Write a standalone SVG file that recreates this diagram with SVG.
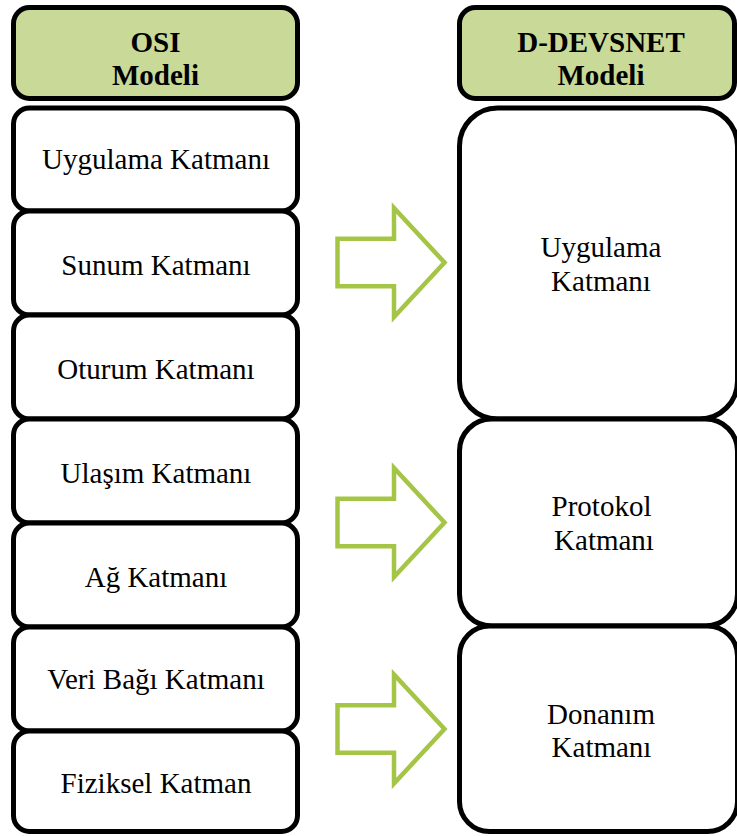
<svg xmlns="http://www.w3.org/2000/svg" width="737" height="836" viewBox="0 0 737 836">
  <style>
    .box { fill: #ffffff; stroke: #000000; stroke-width: 5; }
    .head { fill: #c8d998; stroke: #000000; stroke-width: 5; }
    .lbl { font-family: "Liberation Serif", "Times New Roman", serif; font-size: 29px; fill: #000000; text-anchor: middle; }
    .ttl { font-family: "Liberation Serif", "Times New Roman", serif; font-size: 29px; font-weight: bold; fill: #000000; text-anchor: middle; }
    .arrow { fill: #ffffff; stroke: #a5c547; stroke-width: 4.5; stroke-linejoin: miter; stroke-miterlimit: 10; }
  </style>
  <defs>
    <path id="block-arrow" d="M337.5,238.7 H394 V208 L444.5,262.5 L394,317 V286.3 H337.5 Z"/>
  </defs>
  <rect width="737" height="836" fill="#ffffff"/>

  <!-- OSI column -->
  <g id="osi-header">
    <rect class="head" x="13.5" y="7.5" width="284" height="91" rx="16"/>
    <text class="ttl" x="155.5" y="52">OSI</text>
    <text class="ttl" x="155.5" y="85">Modeli</text>
  </g>
  <g id="osi-application">
    <rect class="box" x="13.5" y="108" width="284" height="103" rx="16"/>
    <text class="lbl" x="156" y="169">Uygulama Katmanı</text>
  </g>
  <g id="osi-presentation">
    <rect class="box" x="13.5" y="211" width="284" height="104" rx="16"/>
    <text class="lbl" x="156" y="275">Sunum Katmanı</text>
  </g>
  <g id="osi-session">
    <rect class="box" x="13.5" y="315" width="284" height="104" rx="16"/>
    <text class="lbl" x="156" y="379">Oturum Katmanı</text>
  </g>
  <g id="osi-transport">
    <rect class="box" x="13.5" y="419" width="284" height="104" rx="16"/>
    <text class="lbl" x="156" y="483">Ulaşım Katmanı</text>
  </g>
  <g id="osi-network">
    <rect class="box" x="13.5" y="523" width="284" height="104" rx="16"/>
    <text class="lbl" x="156" y="587">Ağ Katmanı</text>
  </g>
  <g id="osi-datalink">
    <rect class="box" x="13.5" y="627" width="284" height="104" rx="16"/>
    <text class="lbl" x="156" y="689">Veri Bağı Katmanı</text>
  </g>
  <g id="osi-physical">
    <rect class="box" x="13.5" y="731" width="284" height="100.5" rx="16"/>
    <text class="lbl" x="156" y="793">Fiziksel Katman</text>
  </g>

  <!-- D-DEVSNET column -->
  <g id="devsnet-header">
    <rect class="head" x="459.5" y="7.5" width="275" height="91" rx="16"/>
    <text class="ttl" x="601" y="52">D-DEVSNET</text>
    <text class="ttl" x="601" y="85">Modeli</text>
  </g>
  <g id="devsnet-application">
    <rect class="box" x="459.5" y="108" width="278" height="311" rx="38"/>
    <text class="lbl" x="601" y="257">Uygulama</text>
    <text class="lbl" x="601" y="291">Katmanı</text>
  </g>
  <g id="devsnet-protocol">
    <rect class="box" x="459.5" y="419" width="278" height="207" rx="32"/>
    <text class="lbl" x="601.5" y="516">Protokol</text>
    <text class="lbl" x="604" y="550">Katmanı</text>
  </g>
  <g id="devsnet-hardware">
    <rect class="box" x="459.5" y="626" width="278" height="205.5" rx="30"/>
    <text class="lbl" x="601" y="724">Donanım</text>
    <text class="lbl" x="601.5" y="757">Katmanı</text>
  </g>

  <!-- mapping arrows -->
  <g id="connectors">
    <use href="#block-arrow" class="arrow"/>
    <use href="#block-arrow" class="arrow" transform="translate(0,260)"/>
    <use href="#block-arrow" class="arrow" transform="translate(0,466.5)"/>
  </g>
</svg>
